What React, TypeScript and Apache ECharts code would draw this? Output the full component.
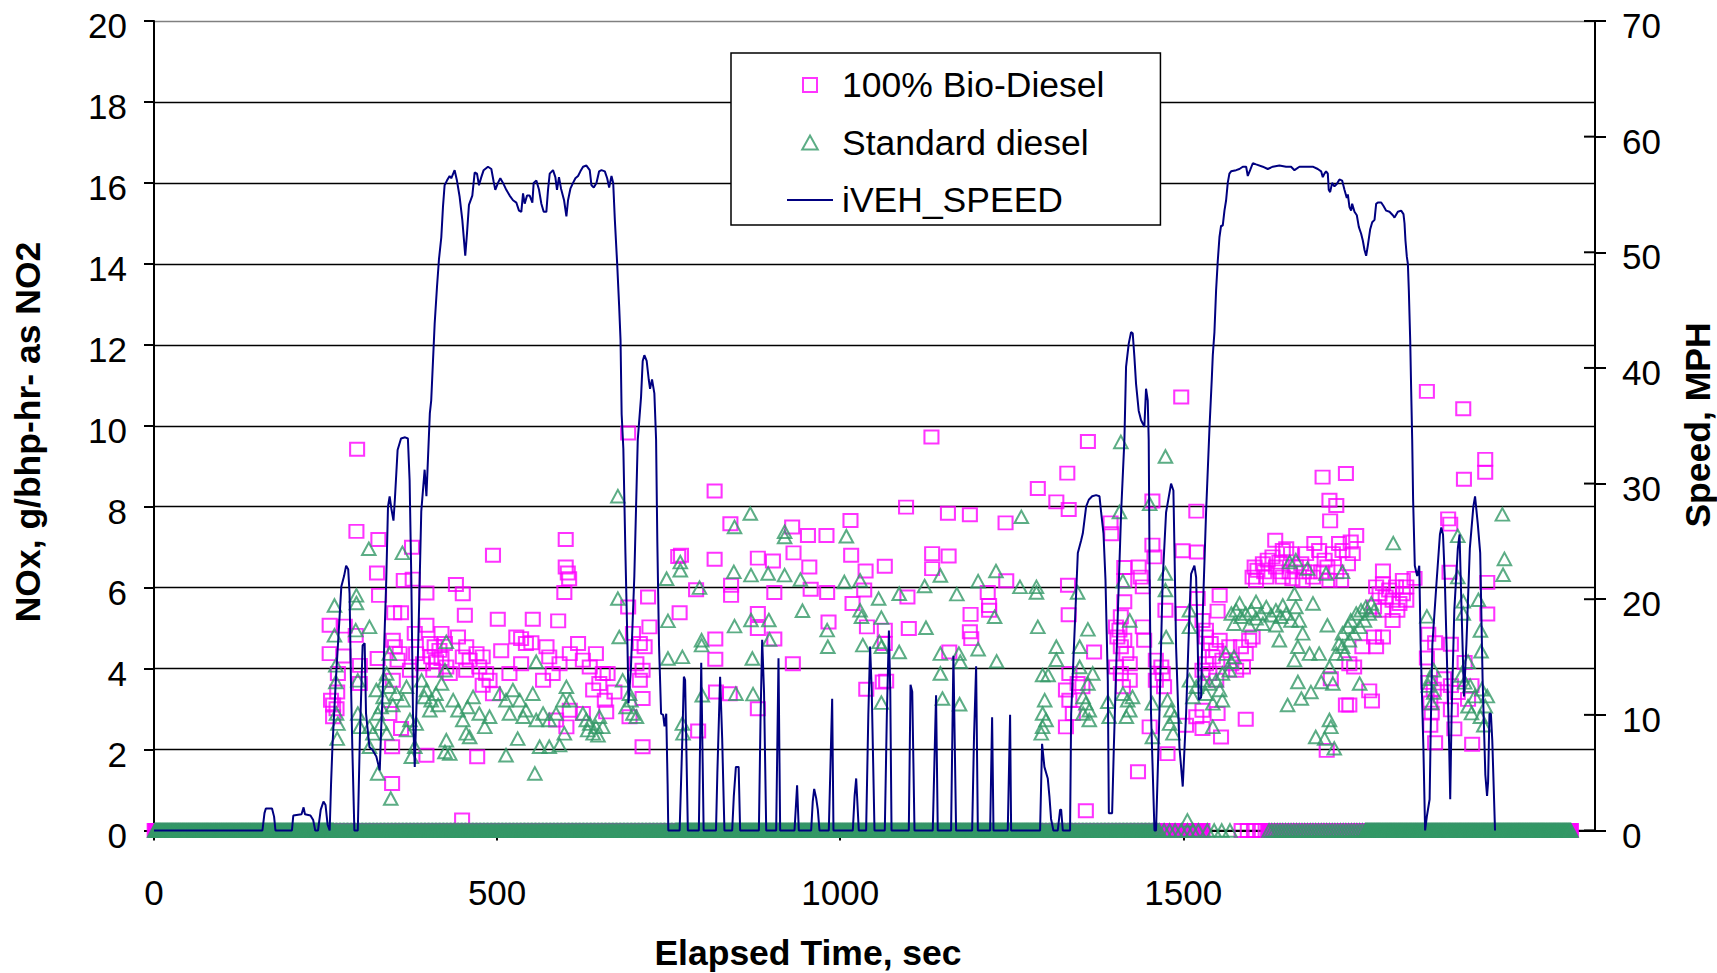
import React, { useEffect, useRef } from "react";
import * as echarts from "echarts";

// ---------- Axis ticks ----------
const xTickValues = [0, 500, 1000, 1500, 2000];
const speedTickValues = [0, 10, 20, 30, 40, 50, 60, 70];

// ---------- Series names ----------
const bioName = "100% Bio-Diesel";
const stdName = "Standard diesel";
const speedName = "iVEH_SPEED";

// ---------- NOx readings (time s, g/bhp-hr) — 100% Bio-Diesel, non-zero ----------
const bioReadings: [number, number][] = [
  [296, 9.42], [295, 7.39], [327, 7.19], [376, 7.0], [325, 6.36], [364, 6.18], [377, 6.21], [328, 5.81], [397, 5.87],
  [350, 5.38], [360, 5.38], [256, 5.07], [278, 5.05], [294, 4.82], [397, 5.07], [380, 4.87], [419, 4.87], [256, 4.37],
  [276, 4.31], [326, 4.25], [348, 4.7], [351, 4.54], [358, 4.37], [355, 4.21], [300, 4.08], [300, 3.63], [268, 3.88],
  [267, 3.42], [258, 3.22], [261, 3.1], [266, 3.01], [261, 2.81], [348, 3.71], [343, 2.89], [360, 2.52], [347, 2.07],
  [347, 1.16], [397, 1.86], [402, 4.62], [409, 4.54], [416, 4.45], [424, 4.62], [404, 4.29], [411, 4.17], [419, 4.25],
  [426, 4.04], [431, 3.88], [407, 3.96], [382, 4.37], [392, 4.12], [373, 3.96], [440, 6.08], [450, 5.85], [453, 5.32],
  [443, 4.78], [455, 4.54], [450, 4.29], [460, 4.21], [470, 4.37], [479, 4.29], [455, 3.96], [474, 4.04], [484, 3.88],
  [489, 3.71], [479, 3.59], [494, 3.38], [494, 6.8], [501, 5.22], [506, 4.44], [471, 1.82], [449, 0.26], [535, 4.74],
  [552, 5.22], [550, 4.64], [589, 5.18], [572, 4.54], [528, 4.78], [542, 4.62], [535, 4.12], [518, 3.88], [576, 4.29],
  [591, 4.12], [606, 4.37], [618, 4.62], [625, 4.21], [635, 4.04], [644, 4.37], [654, 3.88], [661, 3.88], [649, 3.63],
  [640, 3.47], [657, 3.22], [659, 2.93], [625, 2.89], [601, 2.56], [586, 2.73], [606, 2.97], [567, 3.71], [581, 3.88],
  [600, 7.19], [600, 6.51], [603, 6.36], [605, 6.22], [598, 5.88], [691, 9.82], [691, 5.52], [720, 5.77], [722, 5.03],
  [708, 4.62], [712, 3.96], [708, 3.71], [712, 3.26], [712, 2.07], [693, 2.81], [698, 4.87], [715, 4.54], [703, 4.12],
  [671, 3.42],
  [1133, 9.72], [1288, 8.45], [817, 8.39], [1096, 7.99], [1157, 7.84], [1189, 7.8], [1241, 7.6], [840, 7.58], [930, 7.5],
  [953, 7.29], [980, 7.29], [1015, 7.66], [764, 6.77], [768, 6.8], [817, 6.7], [880, 6.73], [902, 6.66], [932, 6.86],
  [955, 6.51], [1016, 6.8], [1037, 6.41], [1065, 6.53], [1134, 6.84], [1158, 6.78], [1134, 6.47], [1242, 6.17],
  [790, 5.95], [841, 6.06], [841, 5.81], [904, 5.88], [957, 5.96], [981, 5.88], [1035, 5.94], [1018, 5.61], [1098, 5.77],
  [1215, 5.88], [1217, 5.56], [1217, 5.44], [1190, 5.34], [766, 5.38], [880, 5.36], [880, 4.99], [983, 5.15],
  [1039, 5.03], [1065, 4.95], [1065, 4.62], [1100, 4.99], [1189, 4.91], [1191, 4.74], [818, 4.73], [818, 4.23],
  [904, 4.73], [931, 4.12], [1159, 4.41], [819, 3.42], [839, 3.38], [880, 3.01], [793, 2.46], [1038, 3.49],
  [1062, 3.67], [1067, 3.69],
  [1497, 10.71], [1361, 9.61], [1331, 8.83], [1703, 8.73], [1737, 8.82], [1713, 8.16], [1723, 8.03], [1714, 7.65],
  [1315, 8.12], [1333, 7.93], [1455, 8.14], [1519, 7.89], [1394, 7.6], [1395, 7.33], [1455, 7.05], [1458, 6.76],
  [1499, 6.91], [1520, 6.88], [1752, 7.29], [1744, 7.13], [1747, 6.84], [1740, 6.59], [1732, 6.92], [1727, 7.09],
  [1601, 6.26], [1608, 6.43], [1616, 6.59], [1623, 6.68], [1630, 6.76], [1635, 6.51], [1642, 6.39], [1650, 6.96],
  [1657, 6.84], [1664, 6.51], [1672, 6.59], [1679, 6.84], [1684, 6.39], [1691, 7.09], [1698, 6.92], [1706, 6.68],
  [1710, 6.51], [1718, 6.84], [1723, 6.39], [1730, 6.18], [1606, 6.18], [1621, 6.26], [1645, 6.26], [1659, 6.22],
  [1674, 6.18], [1689, 6.26], [1634, 7.17], [1645, 6.92], [1604, 6.51], [1618, 6.39], [1640, 6.63], [1655, 6.39],
  [1676, 6.39], [1701, 6.39], [1713, 6.18], [1791, 6.41], [1781, 6.02], [1791, 6.1], [1800, 5.94], [1810, 6.02],
  [1820, 5.85], [1825, 5.69], [1815, 5.61], [1805, 5.69], [1795, 5.77], [1786, 5.85], [1778, 5.52], [1791, 5.44],
  [1805, 5.19], [1812, 5.44], [1820, 6.18], [1825, 6.02], [1332, 6.06], [1333, 5.33], [1414, 6.5], [1414, 6.18],
  [1435, 6.51], [1438, 6.26], [1441, 6.02], [1414, 5.65], [1409, 5.28], [1407, 4.95], [1414, 4.7], [1441, 5.03],
  [1443, 4.7], [1474, 5.44], [1499, 5.36], [1521, 5.73], [1553, 5.81], [1550, 5.42], [1528, 5.19], [1533, 4.95],
  [1370, 4.41], [1334, 3.88], [1329, 3.47], [1334, 3.22], [1339, 2.89], [1329, 2.56], [1346, 3.63], [1353, 3.55],
  [1402, 5.03], [1404, 4.78], [1409, 4.54], [1417, 4.37], [1422, 4.12], [1402, 4.04], [1409, 3.88], [1422, 3.71],
  [1412, 3.55], [1460, 4.21], [1468, 4.04], [1470, 3.88], [1460, 3.71], [1472, 3.55], [1451, 2.56], [1477, 1.9],
  [1434, 1.45], [1358, 0.49], [1504, 2.6], [1528, 2.97], [1550, 2.89], [1555, 2.31], [1528, 2.52], [1519, 2.81],
  [1533, 4.78], [1540, 4.62], [1548, 4.45], [1553, 4.7], [1543, 4.29], [1557, 4.21], [1570, 4.12], [1577, 3.96],
  [1587, 4.04], [1591, 4.37], [1596, 4.7], [1601, 4.78], [1584, 4.54], [1567, 4.54], [1533, 4.12], [1538, 3.88],
  [1548, 3.71], [1528, 3.96], [1591, 2.75], [1715, 3.75], [1737, 3.1], [1742, 3.1], [1771, 3.45], [1775, 3.2],
  [1709, 1.98], [1742, 4.12], [1749, 4.04], [1761, 4.54], [1778, 4.78], [1781, 4.54], [1791, 4.78],
  [1855, 10.85], [1908, 10.42], [1940, 9.17], [1940, 8.85], [1909, 8.68], [1886, 7.7], [1889, 7.57], [1837, 6.23],
  [1888, 6.38], [1943, 6.13], [1943, 5.35], [1857, 4.85], [1867, 4.64], [1890, 4.6], [1910, 4.15], [1857, 3.66],
  [1865, 3.49], [1875, 3.32], [1860, 3.15], [1890, 3.58], [1900, 3.41], [1915, 3.24], [1920, 3.58], [1862, 2.9],
  [1890, 2.98], [1895, 2.51], [1860, 2.6], [1867, 2.17], [1921, 2.13], [1855, 4.26], [1880, 3.75],
];

// ---------- NOx readings — Standard diesel, non-zero ----------
const stdReadings: [number, number][] = [
  [313, 6.96], [362, 6.86], [263, 5.56], [295, 5.81], [295, 5.62], [263, 4.82], [294, 4.95], [314, 5.03], [426, 4.66],
  [265, 4.08], [265, 3.67], [297, 3.71], [343, 4.37], [339, 3.88], [336, 3.71], [424, 3.96], [266, 2.89], [268, 2.64],
  [267, 2.27], [297, 2.89], [300, 2.56], [314, 2.56], [319, 2.4], [326, 2.89], [331, 2.64], [339, 2.4], [314, 2.07],
  [326, 1.41], [345, 0.79], [324, 3.47], [334, 3.3], [343, 3.55], [353, 3.38], [331, 3.05], [348, 3.1], [368, 3.55],
  [363, 3.22], [373, 2.73], [382, 2.64], [368, 2.48], [380, 2.07], [375, 1.82], [390, 3.71], [397, 3.47], [404, 3.22],
  [411, 3.38], [419, 3.63], [402, 2.97], [394, 3.3], [414, 3.1], [426, 2.23], [431, 1.9], [424, 1.94], [436, 3.22],
  [443, 2.97], [450, 2.73], [457, 3.05], [465, 3.3], [474, 2.89], [482, 2.56], [489, 2.81], [455, 2.4], [460, 2.31],
  [513, 1.86], [530, 2.27], [504, 3.38], [513, 3.22], [523, 3.47], [533, 3.22], [542, 2.97], [552, 3.38], [518, 2.89],
  [538, 2.81], [557, 2.73], [555, 1.41], [557, 4.17], [567, 2.89], [576, 2.73], [586, 2.89], [562, 2.07], [576, 2.07],
  [591, 2.11], [598, 2.4], [601, 3.55], [596, 3.22], [606, 3.22], [625, 2.89], [635, 2.64], [644, 2.56], [640, 2.4],
  [630, 2.73], [649, 2.81], [632, 2.48], [647, 2.35], [654, 2.56], [676, 8.26], [676, 5.73], [678, 4.78], [683, 3.71],
  [693, 3.38], [688, 3.05], [698, 2.89], [703, 2.81], [695, 3.22],
  [869, 7.83], [1264, 7.75], [846, 7.5], [919, 7.38], [919, 7.25], [1009, 7.27], [767, 6.63], [767, 6.43], [747, 6.22],
  [845, 6.39], [870, 6.31], [895, 6.35], [919, 6.31], [942, 6.2], [1006, 6.14], [1029, 6.18], [1123, 6.04],
  [1146, 6.3], [1201, 6.16], [1227, 6.41], [1262, 6.02], [1286, 6.02], [1286, 5.88], [795, 6.0], [1056, 5.73],
  [1086, 5.85], [1170, 5.84], [945, 5.43], [749, 5.18], [846, 5.05], [870, 5.2], [896, 5.2], [981, 4.95], [1029, 5.44],
  [1031, 5.28], [1060, 5.26], [1125, 5.01], [1225, 5.28], [1288, 5.03], [798, 4.58], [798, 4.7], [897, 4.72],
  [982, 4.54], [1033, 4.58], [1057, 4.66], [1060, 4.54], [1086, 4.41], [1146, 4.37], [1173, 4.37], [1201, 4.48],
  [749, 4.25], [770, 4.29], [872, 4.25], [1175, 4.17], [1228, 4.18], [1146, 3.88], [1295, 3.84], [1303, 3.84],
  [799, 3.34], [848, 3.38], [873, 3.37], [1149, 3.26], [1174, 3.12], [1298, 3.22], [1295, 2.89], [1300, 2.73],
  [1295, 2.56], [1293, 2.4], [1060, 3.16], [770, 2.64], [771, 2.4],
  [1409, 9.6], [1474, 9.24], [1407, 7.87], [1451, 8.07], [1806, 7.1], [1346, 5.88], [1412, 6.16], [1474, 6.35],
  [1474, 5.94], [1361, 4.97], [1315, 4.54], [1315, 4.22], [1349, 4.54], [1349, 4.04], [1368, 3.88], [1361, 3.63],
  [1422, 5.19], [1475, 4.78], [1509, 5.44], [1509, 5.03], [1354, 3.3], [1358, 3.14], [1363, 2.97], [1354, 2.89],
  [1363, 2.73], [1390, 3.18], [1392, 2.81], [1412, 3.38], [1419, 3.22], [1422, 2.97], [1417, 2.81], [1426, 3.3],
  [1455, 3.14], [1455, 2.31], [1477, 3.22], [1482, 2.97], [1487, 2.81], [1480, 2.64], [1485, 2.4], [1509, 3.71],
  [1519, 3.55], [1528, 3.71], [1538, 3.63], [1548, 3.71], [1557, 3.88], [1567, 3.96], [1514, 3.3], [1533, 3.38],
  [1553, 3.47], [1543, 3.14], [1543, 2.56], [1557, 3.22], [1562, 4.37], [1570, 4.17], [1574, 4.29], [1506, 0.25],
  [1570, 5.36], [1577, 5.44], [1584, 5.28], [1591, 5.36], [1599, 5.44], [1606, 5.24], [1613, 5.36], [1621, 5.52],
  [1628, 5.32], [1635, 5.44], [1642, 5.28], [1650, 5.36], [1657, 5.19], [1574, 5.11], [1596, 5.07], [1616, 5.11],
  [1635, 5.07], [1582, 5.61], [1606, 5.65], [1645, 5.56], [1640, 4.7], [1655, 6.63], [1664, 6.68], [1681, 6.47],
  [1662, 5.85], [1664, 5.52], [1669, 5.19], [1674, 4.87], [1667, 4.54], [1662, 4.21], [1684, 4.37], [1698, 4.37],
  [1667, 3.67], [1686, 3.42], [1701, 3.67], [1672, 3.26], [1652, 3.1], [1689, 5.61], [1710, 5.07], [1708, 6.35],
  [1732, 6.39], [1693, 2.31], [1706, 2.27], [1713, 2.73], [1715, 2.56], [1720, 2.03], [1718, 3.63], [1713, 4.04],
  [1727, 4.62], [1732, 4.87], [1740, 5.03], [1744, 5.19], [1752, 5.36], [1759, 5.44], [1766, 5.52], [1774, 5.61],
  [1732, 4.54], [1742, 4.7], [1749, 4.87], [1757, 5.03], [1764, 5.19], [1771, 5.36], [1778, 5.44], [1723, 4.37],
  [1735, 4.37], [1757, 3.63],
  [1965, 7.81], [1968, 6.71], [1966, 6.32], [1900, 7.28], [1900, 6.26], [1855, 5.29], [1908, 5.66], [1908, 5.36],
  [1930, 5.7], [1933, 4.94], [1934, 4.43], [1915, 4.17], [1865, 3.96], [1860, 3.75], [1910, 3.66], [1918, 3.58],
  [1925, 3.32], [1935, 3.49], [1943, 3.32], [1915, 3.07], [1940, 3.07], [1933, 2.81], [1938, 2.6], [1862, 3.15],
  [1857, 3.58], [1865, 3.41], [1905, 3.83], [1920, 2.9],
];

// ---------- Zero NOx readings (logged at 1 Hz): [from s, to s, sample period s] and single samples ----------
const bioZeroRuns: [number, number, number][] = [[1, 1528, 1], [1625, 2065, 1]];
const bioZeroSingles: number[] = [1585, 1594, 1603, 1612, 1620];
const stdZeroRuns: [number, number, number][] = [
  [1, 261, 1], [262, 760, 2], [761, 1290, 1], [1291, 1466, 2], [1625, 1765, 4], [1766, 2065, 1],
];
const stdZeroSingles: number[] = [1472, 1480, 1488, 1497, 1506, 1514, 1522, 1535, 1545, 1556, 1568];

// ---------- Vehicle speed (time s, MPH) ----------
const speedMph: [number, number][] = [
  [0, 0], [158, 0], [161, 1.5], [163, 1.9], [172, 1.9], [175, 1.2], [177, 0],
  [201, 0], [203, 1.3], [215, 1.4], [218, 2.0], [220, 1.4], [228, 1.3], [232, 0.9], [235, 0],
  [239, 0], [243, 1.8], [247, 2.5], [250, 2.2], [253, 0.5], [256, 0],
  [258, 4], [260, 7.2], [265, 13], [269, 17], [273, 21.1], [277, 22], [280, 22.9], [283, 22.6], [285, 20.5], [287, 13],
  [289, 7.2], [292, 0], [297, 0], [300, 8], [304, 16], [307, 16.2], [309, 10.1], [314, 7.2], [318, 7], [324, 6.4],
  [329, 5.2], [331, 8.7], [334, 13], [336, 17], [338.5, 21.7], [341, 28], [343.4, 28.9], [346, 27.8], [349, 26.8],
  [351, 28.6], [355, 32.9], [360, 33.9], [366, 34], [370, 33.9], [372.5, 30.3], [375, 21.7], [377.4, 10.1], [380, 5.5],
  [385, 16], [389.5, 27.6], [394.4, 31.2], [397, 28.9], [402, 36.1], [404, 37.2], [409, 43.8], [412.4, 47],
  [415.3, 49.4], [418.7, 51.3], [421.1, 53.9], [423.5, 55.8], [426.9, 56.2], [430.8, 56.6], [433.2, 56.4],
  [438.1, 57.1], [441.5, 56.2], [445.4, 54.8], [449.3, 52.8], [453.6, 49.7], [456.1, 51.6], [459, 54.1], [463.9, 54.9],
  [467.3, 56.9], [470.7, 56.8], [473.6, 55.8], [477, 56.5], [480.4, 57.1], [486.7, 57.4], [491.6, 57.2], [495, 56.1],
  [497.4, 55.4], [501.3, 56], [504.7, 56.4], [508.6, 56], [513.4, 55.4], [518.3, 54.9], [523.2, 54.5], [528, 54.3],
  [531.9, 53.6], [535.3, 53.5], [537.8, 55.1], [540.2, 54.2], [543.6, 54.9], [547.5, 54.9], [551.4, 54.3], [553.3, 56],
  [557.2, 56.2], [561.1, 55.4], [564.5, 54.2], [567.9, 53.5], [571.8, 53.5], [574.2, 55.4], [576.7, 56.8],
  [581.5, 57.1], [584.9, 56.5], [587.3, 55.4], [590.2, 56.5], [593.2, 55.5], [597.6, 54.5], [601, 53.1], [603.4, 54.5],
  [606.8, 55.5], [610.7, 56], [614.1, 56.4], [618, 56.6], [621.4, 57], [625.3, 57.4], [630.2, 57.5], [635, 57.1],
  [637.5, 55.8], [640.9, 55.6], [644.8, 56], [648.7, 57], [652.1, 57.1], [657, 57], [660.4, 56.4], [663.3, 55.6],
  [666.7, 56.6], [669.2, 56], [671.6, 52.8], [675, 49], [677.9, 45.3], [679.9, 42.4], [681.5, 36], [684, 33],
  [687, 24], [690, 16], [691.5, 11], [695, 14], [700, 22], [705, 33.8], [709.8, 37.5], [712.2, 40.6], [714.6, 41.1],
  [718, 40.6], [721, 39], [722.9, 38.2], [725.8, 39], [729.2, 37.8], [731.7, 33.8], [733.5, 25], [736, 16],
  [739, 10.1], [742, 10], [744, 9], [746.5, 10.1], [748.5, 4], [749.5, 0],
  [766, 0], [770, 8], [772.2, 13.3], [774, 13], [778, 0],
  [794, 0], [797.5, 14.5], [801, 0],
  [819, 0], [821, 5], [825, 13.3], [828, 8], [831.3, 0],
  [842.6, 0], [845, 3], [848, 5.5], [852, 5.5], [854.2, 0],
  [881.5, 0], [884, 10], [886.3, 16.5], [889, 12], [892.2, 0],
  [906.7, 0], [910.1, 14.9], [912.5, 0],
  [933.4, 0], [937.2, 3.9], [939.7, 0],
  [957.7, 0], [960, 2.5], [962.1, 3.6], [965, 2.8], [967.4, 1.8], [969.8, 0],
  [983.4, 0], [988.3, 11.4], [990.2, 0],
  [1018.4, 0], [1021, 3], [1023.3, 4.5], [1027.1, 0],
  [1037.8, 0], [1041, 10], [1043.6, 15.9], [1046, 12], [1050, 0],
  [1065, 0], [1068, 10], [1071, 17.3], [1073, 12], [1074.8, 0],
  [1100, 0], [1102.5, 12.6], [1105, 12], [1108.3, 0],
  [1134.9, 0], [1139.7, 11.7], [1142.2, 0],
  [1161.6, 0], [1165, 15.1], [1168.9, 0],
  [1192.3, 0], [1195, 8], [1198.1, 14.2], [1200.6, 0],
  [1218.5, 0], [1221.4, 9.8], [1223.4, 0],
  [1244.2, 0], [1247.6, 10], [1249.1, 0],
  [1291.3, 0], [1294.2, 7.5], [1297.6, 5.5], [1302.5, 4.5], [1305, 2.9], [1307.3, 1], [1310.7, 0],
  [1317.1, 0], [1320.5, 1.8], [1322, 1.8], [1324.4, 0],
  [1335, 0], [1336.6, 10.1], [1346.3, 24], [1351.2, 25.1], [1353.6, 25.7], [1358.4, 28], [1362.3, 28.6],
  [1367.2, 28.9], [1373, 29], [1377.9, 28.9], [1380.3, 27.5], [1383.7, 25.7], [1386.6, 21.7], [1390, 13],
  [1391.5, 1.5], [1396.3, 1.5], [1398.8, 7.2], [1404.6, 18.8], [1409.4, 27.5], [1414.2, 33.8], [1416.6, 40.1],
  [1420.5, 42.1], [1423.9, 43.1], [1426.3, 43], [1428.7, 41], [1431.2, 38.6], [1435, 36.3], [1438.4, 35.5],
  [1440.9, 35.2], [1443.3, 34.9], [1445.7, 38.2], [1448.2, 37.2], [1449.6, 33.8], [1451, 21.7], [1453, 10.1],
  [1458, 0], [1460.3, 0], [1465.2, 10.1], [1470, 21.7], [1474.9, 27.5], [1482.2, 30], [1485.6, 29.4], [1487.1, 24.5],
  [1489.5, 15.9], [1494.4, 7.2], [1499.2, 3.8], [1504.1, 10.1], [1509, 18.8], [1511.4, 22.2], [1516.2, 22.9],
  [1518.7, 21.9], [1521.1, 15.9], [1522.5, 11.3], [1525.9, 11.5], [1528.4, 18.8], [1533.2, 27.5], [1538.1, 34.7],
  [1541.5, 39], [1543, 41.1], [1545.4, 43.1], [1547.8, 46.7], [1550.2, 49.2], [1552.7, 51.3], [1555.1, 52.3],
  [1557.5, 52.3], [1560, 53.6], [1562.4, 54.5], [1564.8, 56], [1567.2, 56.8], [1569.7, 57], [1577, 57.1],
  [1581.8, 57.2], [1586.7, 57.4], [1591.6, 57.4], [1594, 56.6], [1597.4, 57.1], [1601.3, 57.7], [1606.1, 57.6],
  [1615.8, 57.4], [1623.1, 57.2], [1630.4, 57.4], [1640.1, 57.5], [1649.8, 57.4], [1657.1, 57.4], [1662, 57.1],
  [1669.3, 57.4], [1679, 57.4], [1688.7, 57.4], [1696, 57.2], [1700.9, 57], [1703.3, 56.5], [1705.7, 56.8],
  [1708.1, 57], [1710.6, 56.8], [1712, 55.4], [1714, 55.2], [1716.9, 56], [1720.3, 55.7], [1723.7, 55.9],
  [1727.6, 56.3], [1731.5, 56.2], [1734.9, 55.4], [1738.3, 54.7], [1739.8, 55], [1742.2, 53.9], [1744.6, 53.6],
  [1746.1, 54.2], [1749.5, 53.5], [1752.9, 53.2], [1755.8, 52.2], [1759.2, 51.6], [1761.7, 51], [1764.1, 50.2],
  [1766.5, 49.7], [1769, 50.6], [1772.4, 52], [1775.3, 52.6], [1778.7, 52.8], [1781.1, 54.2], [1783.5, 54.3],
  [1788.4, 54.3], [1791.8, 54], [1795.7, 53.6], [1800.5, 53.5], [1805.4, 53.2], [1807.8, 53], [1812.7, 53.5],
  [1817.5, 53.6], [1820.9, 53.3], [1822.4, 52.5], [1823.8, 51], [1825.8, 49.6], [1827.3, 49], [1828.7, 46.7],
  [1830.7, 42.4], [1832.1, 38.1], [1833.6, 33.8], [1834.9, 28.7], [1837.4, 22.9], [1840.9, 22], [1843.9, 22.9],
  [1845.9, 16.1], [1849.9, 7.2], [1852.4, 0], [1854.9, 1.2], [1859, 2.7], [1861, 10.1], [1863, 16.1], [1869, 21.4],
  [1874, 25.6], [1876, 26.2], [1878.5, 25.6], [1881, 22], [1885, 13.1], [1887.5, 7.2], [1889, 2.7], [1891, 10],
  [1895, 19.1], [1900.1, 24.4], [1902.6, 25.6], [1905.1, 20], [1909.1, 11.6], [1912.6, 16.1], [1917.6, 24.4],
  [1922.7, 28], [1925.2, 28.9], [1929.2, 26.5], [1932.7, 24], [1936.2, 13.1], [1940.2, 4.8], [1942.7, 3],
  [1944.2, 4.2], [1946.2, 10.1], [1948.3, 10.1], [1950.3, 7.8], [1954.3, 0],
];

const FONT = 'Arial, "Liberation Sans", Helvetica, sans-serif';
const MAGENTA = "#FF00FF";
const SEA_GREEN = "#339966";
const NAVY = "#000080";
const X_MAX = 2100;

function zeroPoints(runs: [number, number, number][], singles: number[]): [number, number][] {
  const out: [number, number][] = [];
  for (const [from, to, period] of runs) {
    for (let t = from; t <= to; t += period) out.push([t, 0]);
  }
  for (const t of singles) out.push([t, 0]);
  return out;
}

export default function App() {
  const ref = useRef<HTMLDivElement>(null);

  useEffect(() => {
    if (!ref.current) return;
    const chart = echarts.init(ref.current, undefined, { renderer: "svg" });

    const bioData = [...zeroPoints(bioZeroRuns, bioZeroSingles), ...bioReadings];
    const stdData = [...zeroPoints(stdZeroRuns, stdZeroSingles), ...stdReadings];

    const gridColors = ["#000", "#000", "#000", "#000", "#000", "#000", "#000", "#000", "#000", "#000", "#808080"];
    const tickFont = { fontSize: 35, color: "#000", fontFamily: FONT };
    // value labels sit a few pixels below their tick, as in the original
    const yLabel = { ...tickFont, margin: 27, verticalAlign: "top", lineHeight: 9 };
    const titleStyle = {
      fill: "#000",
      font: `bold 35.5px ${FONT}`,
      align: "center",
      verticalAlign: "middle",
      textAlign: "center",
      textVerticalAlign: "middle",
      lineHeight: 34,
    };

    chart.setOption({
      animation: false,
      backgroundColor: "#fff",
      grid: { left: 154, right: 122, top: 21, bottom: 142.5, containLabel: false },
      xAxis: {
        type: "value",
        min: 0,
        max: X_MAX,
        interval: 500,
        axisLine: { show: true, onZero: false, lineStyle: { color: "#000", width: 2 } },
        axisTick: { show: true, inside: false, length: 10, lineStyle: { color: "#000", width: 2 }, customValues: xTickValues },
        axisLabel: {
          ...tickFont,
          margin: 44,
          customValues: xTickValues,
          showMaxLabel: false,
          formatter: (v: number) => String(v),
        },
        splitLine: { show: false },
      },
      yAxis: [
        {
          type: "value",
          min: 0,
          max: 20,
          interval: 2,
          position: "left",
          axisLine: { show: true, onZero: false, lineStyle: { color: "#000", width: 2 } },
          axisTick: { show: true, inside: false, length: 10, lineStyle: { color: "#000", width: 2 } },
          axisLabel: yLabel,
          splitLine: { show: true, lineStyle: { color: gridColors, width: 1.3 } },
        },
        {
          type: "value",
          min: 0,
          max: 70,
          interval: 10,
          position: "right",
          axisLine: { show: true, onZero: false, lineStyle: { color: "#000", width: 2 } },
          axisTick: { show: true, inside: false, length: 11, lineStyle: { color: "#000", width: 2 } },
          axisLabel: yLabel,
          splitLine: { show: false },
        },
      ],
      legend: {
        orient: "vertical",
        left: 731,
        top: 53,
        padding: [14, 56, 7, 56],
        itemGap: 21.5,
        itemWidth: 46,
        itemHeight: 14,
        backgroundColor: "#fff",
        borderColor: "#000",
        borderWidth: 1.5,
        borderRadius: 0,
        selectedMode: false,
        symbolKeepAspect: true,
        textStyle: { fontSize: 35.5, color: "#000", fontFamily: FONT, padding: [0, 0, 0, 4] },
        data: [
          { name: bioName, icon: "path://M0,0 L10,0 L10,10 L0,10 Z" },
          { name: stdName, icon: "path://M5,0 L10,9 L0,9 Z" },
          { name: speedName, icon: "path://M0,0 L46,0 L46,2 L0,2 Z", itemStyle: { color: NAVY, borderWidth: 0 } },
        ],
      },
      series: [
        {
          name: bioName,
          type: "scatter",
          yAxisIndex: 0,
          symbol: "rect",
          symbolSize: [14, 13],
          itemStyle: { color: "rgba(0,0,0,0)", borderColor: MAGENTA, borderWidth: 2 },
          data: bioData,
          clip: false,
          progressive: 0,
          large: false,
          silent: true,
        },
        {
          name: stdName,
          type: "scatter",
          yAxisIndex: 0,
          symbol: "triangle",
          symbolSize: [13.5, 12.5],
          itemStyle: { color: "rgba(0,0,0,0)", borderColor: SEA_GREEN, borderWidth: 2 },
          data: stdData,
          clip: false,
          progressive: 0,
          large: false,
          silent: true,
        },
        {
          name: speedName,
          type: "line",
          yAxisIndex: 1,
          symbol: "none",
          showSymbol: false,
          lineStyle: { color: NAVY, width: 2 },
          itemStyle: { color: NAVY },
          data: speedMph,
          clip: false,
          silent: true,
        },
      ],
    });

    // Inner half of the right axis' crossing tick marks, placed through the axis scales.
    const axisX = chart.convertToPixel({ xAxisIndex: 0 }, X_MAX) as number;
    const innerTicks = speedTickValues.map((v) => {
      const y = chart.convertToPixel({ yAxisIndex: 1 }, v) as number;
      return {
        type: "line",
        silent: true,
        z: 50,
        shape: { x1: axisX - 11, y1: y, x2: axisX, y2: y },
        style: { stroke: "#000", lineWidth: 2 },
      };
    });

    chart.setOption({
      graphic: [
        { type: "text", x: 808, y: 953, style: { text: "Elapsed Time, sec", ...titleStyle } },
        { type: "text", x: 28, y: 432, rotation: Math.PI / 2, style: { text: "NOx, g/bhp-hr- as NO2", ...titleStyle } },
        { type: "text", x: 1698, y: 425, rotation: Math.PI / 2, style: { text: "Speed, MPH", ...titleStyle } },
        ...innerTicks,
      ],
    });

    return () => chart.dispose();
  }, []);

  return (
    <div
      ref={ref}
      style={{ position: "absolute", left: 0, top: 0, width: 1717, height: 973, background: "#fff" }}
    />
  );
}
